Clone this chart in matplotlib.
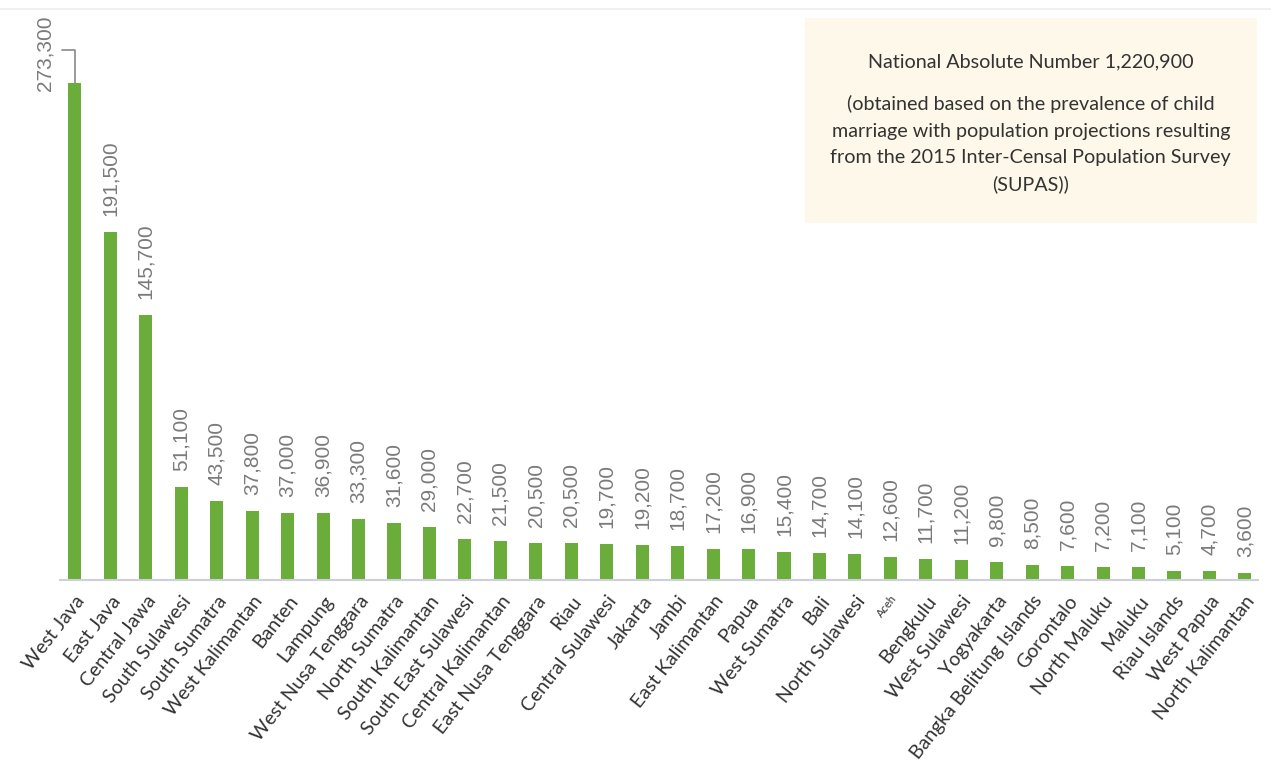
import matplotlib.pyplot as plt

provinces = ['West Java', 'East Java', 'Central Jawa', 'South Sulawesi', 'South Sumatra',
             'West Kalimantan', 'Banten', 'Lampung', 'West Nusa Tenggara', 'North Sumatra',
             'South Kalimantan', 'South East Sulawesi', 'Central Kalimantan',
             'East Nusa Tenggara', 'Riau', 'Central Sulawesi', 'Jakarta', 'Jambi',
             'East Kalimantan', 'Papua', 'West Sumatra', 'Bali', 'North Sulawesi', 'Aceh',
             'Bengkulu', 'West Sulawesi', 'Yogyakarta', 'Bangka Belitung Islands',
             'Gorontalo', 'North Maluku', 'Maluku', 'Riau Islands', 'West Papua',
             'North Kalimantan']
counts = [273300, 191500, 145700, 51100, 43500, 37800, 37000, 36900, 33300, 31600,
          29000, 22700, 21500, 20500, 20500, 19700, 19200, 18700, 17200, 16900, 15400,
          14700, 14100, 12600, 11700, 11200, 9800, 8500, 7600, 7200, 7100, 5100, 4700,
          3600]
national_total = 1220900

bar_color = '#6aad3b'
label_gray = '#7a7a7a'
text_dark = '#333333'
num_font = ['Liberation Sans', 'DejaVu Sans']
txt_font = ['Lato', 'DejaVu Sans']

fig = plt.figure(figsize=(12.71, 7.63), dpi=100)

# note box sits behind the axes, so the axes background is left transparent
fig.add_artist(plt.Rectangle((0.633, 0.708), 0.356, 0.269, transform=fig.transFigure,
                             facecolor='#fdf8e9', edgecolor='none', zorder=0))
# faint rule along the top
fig.add_artist(plt.Line2D([0.0, 1.0], [0.988, 0.988], transform=fig.transFigure,
                          color='#f0f0f0', lw=1.5, zorder=0))

ax = fig.add_axes([0.0472, 0.2398, 0.9426, 0.7471], zorder=1)
ax.patch.set_alpha(0)

x = list(range(len(provinces)))
ax.bar(x, counts, width=0.37, color=bar_color, zorder=2)
ax.set_xlim(-0.42, len(provinces) - 1 + 0.37)
ax.set_ylim(0, counts[0] * 570 / 497)

# value labels, vertical, above each bar
for i, v in enumerate(counts):
    if i == 0:
        continue
    ax.annotate(f'{v:,}', xy=(i, v), xytext=(0, 16), textcoords='offset pixels',
                rotation=90, ha='center', va='bottom', fontsize=15,
                color=label_gray, family=num_font)

# tallest bar: label sits beside the bar with a leader line
ax.annotate(f'{counts[0]:,}', xy=(0, counts[0]), xytext=(-30, -8),
            textcoords='offset pixels', rotation=90, ha='center', va='bottom',
            fontsize=15, color=label_gray, family=num_font)
ax.annotate('', xy=(0, counts[0]), xytext=(-13, 33), textcoords='offset pixels',
            arrowprops=dict(arrowstyle='-', color='#8a8a8a', lw=1.2, shrinkA=0, shrinkB=0,
                            connectionstyle='angle,angleA=0,angleB=90,rad=0'))

ax.set_xticks(x)
ax.set_xticklabels(provinces, rotation=52, ha='right', rotation_mode='anchor',
                   fontsize=14, color=text_dark, family=txt_font)
for lbl in ax.get_xticklabels():
    if lbl.get_text() == 'Aceh':
        lbl.set_fontsize(8)
ax.tick_params(axis='x', length=0, pad=9)
ax.set_yticks([])

for side in ['left', 'right', 'top']:
    ax.spines[side].set_visible(False)
ax.spines['bottom'].set_color('#cfcfdc')
ax.spines['bottom'].set_linewidth(1.5)

fig.text(0.811, 0.919, f'National Absolute Number {national_total:,}', ha='center',
         va='center', fontsize=14.2, color=text_dark, family=txt_font)
fig.text(0.811, 0.8106,
         '(obtained based on the prevalence of child\n'
         'marriage with population projections resulting\n'
         'from the 2015 Inter-Censal Population Survey\n'
         '(SUPAS))',
         ha='center', va='center', fontsize=14.2, color=text_dark, linespacing=1.66,
         family=txt_font)

fig.savefig('out.png', dpi=100)
